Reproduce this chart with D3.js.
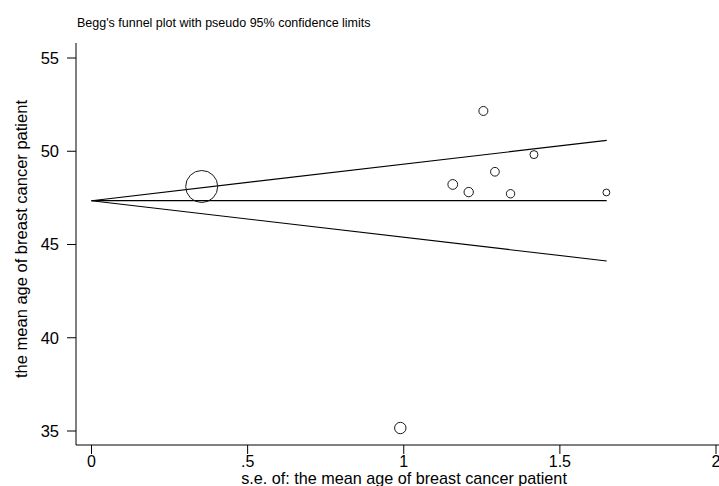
<!DOCTYPE html>
<html>
<head>
<meta charset="utf-8">
<script src="https://cdn.jsdelivr.net/npm/d3@7"></script>
<style>
    body { margin: 0; background: #fff; }
    svg { display: block; }
</style>
</head>
<body>
<svg id="funnel" width="719" height="486"></svg>
<script>
// studies: standard error and mean age
let studySE = [0.353, 0.989, 1.157, 1.208, 1.255, 1.292, 1.342, 1.417, 1.649]
let studyAge = [48.11, 35.16, 48.22, 47.81, 52.16, 48.90, 47.72, 49.82, 47.79]
let pooledAge = 47.35
let maxSE = 1.65
let xTicks = [0, 0.5, 1, 1.5, 2]
let xTickLabels = ["0", ".5", "1", "1.5", "2"]
let yTicks = [35, 40, 45, 50, 55]

function DrawFunnel() {
    let svg = d3.select("#funnel")
    svg.selectAll("*").remove()
    let font = "'Liberation Sans', Arial, sans-serif"
    let axis_x = 76
    let axis_y = 445

    let xscale = d3.scaleLinear().domain([0, 2]).range([91.5, 716])
    let yscale = d3.scaleLinear().domain([35, 55]).range([431, 58])
    // marker size from weight 1/se^2
    let rscale = d3.scaleSqrt().domain([0, 1]).range([0, 5.65])

    //title
    svg.append("text")
        .text("Begg's funnel plot with pseudo 95% confidence limits")
        .attr("x", 77)
        .attr("y", 27)
        .style("fill", "#000")
        .style("font-size", "12.5px")
        .style("font-family", font)

    //axes lines
    svg.append("line")
        .attr("x1", axis_x).attr("x2", axis_x)
        .attr("y1", 43).attr("y2", axis_y)
        .style("stroke", "#000")
        .style("stroke-width", 1)
    svg.append("line")
        .attr("x1", axis_x).attr("x2", 730)
        .attr("y1", axis_y).attr("y2", axis_y)
        .style("stroke", "#000")
        .style("stroke-width", 1)

    //y ticks
    svg.selectAll(".ytick")
        .data(yTicks)
        .enter()
        .append("line")
        .attr("class", "ytick")
        .attr("x1", axis_x - 9).attr("x2", axis_x)
        .attr("y1", d => yscale(d)).attr("y2", d => yscale(d))
        .style("stroke", "#000")
    svg.selectAll(".ylabel")
        .data(yTicks)
        .enter()
        .append("text")
        .attr("class", "ylabel")
        .text(d => d)
        .attr("x", axis_x - 17)
        .attr("y", d => yscale(d))
        .attr("dy", "0.36em")
        .attr("text-anchor", "end")
        .style("font-size", "16.5px")
        .style("font-family", font)

    //x ticks
    svg.selectAll(".xtick")
        .data(xTicks)
        .enter()
        .append("line")
        .attr("class", "xtick")
        .attr("x1", d => xscale(d)).attr("x2", d => xscale(d))
        .attr("y1", axis_y).attr("y2", axis_y + 9)
        .style("stroke", "#000")
    svg.selectAll(".xlabel")
        .data(xTicks)
        .enter()
        .append("text")
        .attr("class", "xlabel")
        .text((d, i) => xTickLabels[i])
        .attr("x", d => xscale(d))
        .attr("y", 467)
        .attr("text-anchor", "middle")
        .style("font-size", "16px")
        .style("font-family", font)

    //axis titles
    svg.append("text")
        .text("s.e. of: the mean age of breast cancer patient")
        .attr("x", 404)
        .attr("y", 484)
        .attr("text-anchor", "middle")
        .style("font-size", "16.2px")
        .style("font-family", font)
    svg.append("text")
        .text("the mean age of breast cancer patient")
        .attr("transform", "translate(27,239) rotate(-90)")
        .attr("text-anchor", "middle")
        .style("font-size", "16.5px")
        .style("font-family", font)

    //pseudo 95% limits and pooled line
    let seLine = [0, maxSE]
    let funnelLines = [
        seLine.map(s => [s, pooledAge + 1.96 * s]),
        seLine.map(s => [s, pooledAge]),
        seLine.map(s => [s, pooledAge - 1.96 * s])
    ]
    let line = d3.line()
        .x(d => xscale(d[0]))
        .y(d => yscale(d[1]))
    svg.selectAll(".funnelLine")
        .data(funnelLines)
        .enter()
        .append("path")
        .attr("class", "funnelLine")
        .attr("d", line)
        .style("fill", "none")
        .style("stroke", "#000")
        .style("stroke-width", 1.1)

    //studies
    svg.selectAll(".study")
        .data(studySE)
        .enter()
        .append("circle")
        .attr("class", "study")
        .attr("cx", d => xscale(d))
        .attr("cy", (d, i) => yscale(studyAge[i]))
        .attr("r", d => rscale(1 / (d * d)))
        .style("fill", "none")
        .style("stroke", "#1a1a1a")
        .style("stroke-width", 1)
}

DrawFunnel()
</script>
</body>
</html>
